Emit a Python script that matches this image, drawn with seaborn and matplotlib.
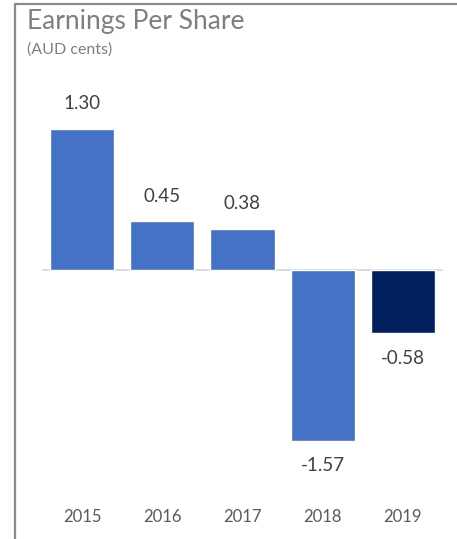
import matplotlib
matplotlib.use("Agg")
import matplotlib.pyplot as plt
from matplotlib.lines import Line2D
import seaborn as sns
import pandas as pd

years = ["2015", "2016", "2017", "2018", "2019"]
eps = [1.30, 0.45, 0.38, -1.57, -0.58]
bar_colors = ["#4472C4", "#4472C4", "#4472C4", "#4472C4", "#002060"]

sns.set_style("white")
plt.rcParams["font.family"] = ["Lato", "DejaVu Sans"]

W, H = 457, 539
fig = plt.figure(figsize=(W / 100, H / 100), dpi=100)
fig.patch.set_facecolor("white")

# axes placed in pixel terms: x from 42 to 443, y from 80 to 490 (top-down)
ax = fig.add_axes([42 / W, (H - 490) / H, 401 / W, 410 / H])

df = pd.DataFrame({"year": years, "eps": eps})
sns.barplot(data=df, x="year", y="eps", hue="year", palette=bar_colors,
            legend=False, width=0.8, saturation=1, ax=ax)

ax.set_xlim(-0.5, 4.5)
ax.set_ylim(-2.022, 1.746)
ax.axhline(0, color="#d9d9d9", linewidth=1.3, zorder=0)

for s in ax.spines.values():
    s.set_visible(False)
ax.set_yticks([])
ax.set_xlabel("")
ax.set_ylabel("")
ax.tick_params(axis="x", length=0, pad=14, labelsize=12, labelcolor="#595959")

for i, v in enumerate(eps):
    off = 18 if v >= 0 else -18
    ax.annotate(f"{v:.2f}", xy=(i, v), xytext=(0, off), textcoords="offset points",
                ha="center", va="center", fontsize=13.5, color="#404040")

fig.text(27 / W, 1 - 22 / H, "Earnings Per Share", fontsize=19, color="#7f7f7f",
         ha="left", va="center")
fig.text(27 / W, 1 - 50 / H, "(AUD cents)", fontsize=11.5, color="#7f7f7f",
         ha="left", va="center")

# frame lines on the left and top
fig.add_artist(Line2D([15 / W, 15 / W], [0, 1 - 4 / H], color="#8c8c8c", linewidth=1.6))
fig.add_artist(Line2D([15 / W, 1], [1 - 4 / H, 1 - 4 / H], color="#8c8c8c", linewidth=1.6))

fig.savefig("out.png", dpi=100, facecolor="white")
